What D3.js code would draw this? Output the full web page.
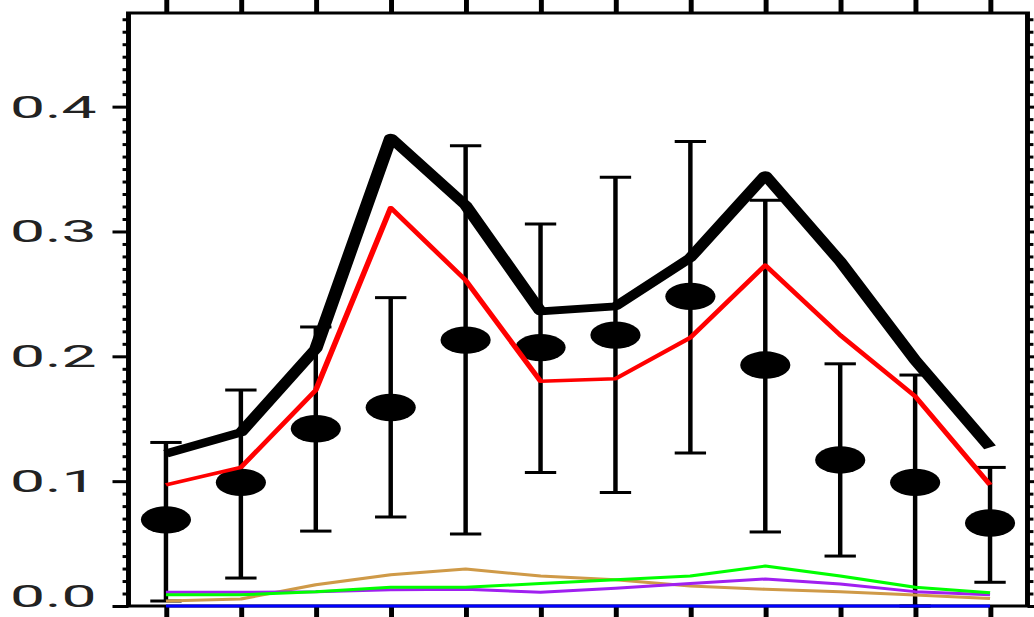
<!DOCTYPE html>
<html>
<head>
<meta charset="utf-8">
<script src="https://cdn.jsdelivr.net/npm/d3@7"></script>
<style>
  html, body { margin: 0; padding: 0; background: #fff; overflow: hidden; }
  svg { display: block; }
</style>
</head>
<body>
<svg id="chart"></svg>
<script>
// Monthly values
const months = [1, 2, 3, 4, 5, 6, 7, 8, 9, 10, 11, 12];

// Observed mean with its spread
const observed = [0.069, 0.099, 0.142, 0.159, 0.213, 0.207, 0.217, 0.248, 0.193, 0.117, 0.099, 0.0665];
const obsHigh  = [0.131, 0.173, 0.2235, 0.247, 0.3686, 0.306, 0.3435, 0.372, 0.325, 0.194, 0.185, 0.111];
const obsLow   = [0.004, 0.0224, 0.060, 0.0713, 0.0577, 0.107, 0.091, 0.1226, 0.0593, 0.040, 0.0, 0.019];

// Modelled totals and components
const modelTotal = [0.122, 0.139, 0.206, 0.375, 0.321, 0.236, 0.240, 0.279, 0.345, 0.276, 0.197, 0.127];
const modelMain  = [0.097, 0.111, 0.173, 0.319, 0.261, 0.180, 0.182, 0.215, 0.273, 0.217, 0.168, 0.097];
const compTan    = [0.004, 0.0056, 0.017, 0.025, 0.0296, 0.024, 0.021, 0.016, 0.0134, 0.0115, 0.0088, 0.006];
const compGreen  = [0.009, 0.009, 0.0115, 0.015, 0.015, 0.018, 0.021, 0.024, 0.032, 0.024, 0.015, 0.0107];
const compPurple = [0.011, 0.011, 0.0115, 0.013, 0.0134, 0.011, 0.0142, 0.018, 0.0216, 0.0176, 0.0115, 0.009];
const compBlue   = [0, 0, 0, 0, 0, 0, 0, 0, 0, 0, 0, 0];

// Axis ticks
const yTicks = [0.0, 0.1, 0.2, 0.3, 0.4];
const yTickLabels = ["0.0", "0.1", "0.2", "0.3", "0.4"];
const yMinorStep = 0.01;
const yMax = 0.475;

// The drawing space is stretched horizontally onto the page
const W = 1034, H = 617, STRETCH = 1.65;
const VW = W / STRETCH;

const svg = d3.select("#chart")
  .attr("width", W)
  .attr("height", H)
  .attr("viewBox", `0 0 ${VW} ${H}`)
  .attr("preserveAspectRatio", "none");

const x = d3.scaleLinear().domain([0.5, 12.5]).range([128.5 / STRETCH, 1027.5 / STRETCH]);
const y = d3.scaleLinear().domain([0, yMax]).range([606, 13]);

const [x0, x1] = x.range();
const [yB, yT] = y.range();

// Ticks
const minorTicks = d3.range(0, yMax + 1e-9, yMinorStep)
  .filter(v => !yTicks.some(t => Math.abs(t - v) < 1e-6));

function styleAxis(g) {
  g.select(".domain").remove();
  g.selectAll(".tick line").attr("stroke", "#000").attr("stroke-width", 3);
  g.selectAll(".tick text").remove();
}

svg.append("g").attr("transform", `translate(${x0},0)`)
  .call(d3.axisLeft(y).tickValues(minorTicks).tickSize(3.6).tickSizeOuter(0))
  .call(styleAxis);
svg.append("g").attr("transform", `translate(${x0},0)`)
  .call(d3.axisLeft(y).tickValues(yTicks).tickSize(9.7).tickSizeOuter(0))
  .call(styleAxis);
svg.append("g").attr("transform", `translate(${x1},0)`)
  .call(d3.axisRight(y).tickValues(minorTicks).tickSize(3.6).tickSizeOuter(0))
  .call(styleAxis);
svg.append("g").attr("transform", `translate(${x1},0)`)
  .call(d3.axisRight(y).tickValues(yTicks).tickSize(9.7).tickSizeOuter(0))
  .call(styleAxis);
svg.append("g").attr("transform", `translate(0,${yB})`)
  .call(d3.axisBottom(x).tickValues(months).tickSize(12).tickSizeOuter(0))
  .call(styleAxis);
svg.append("g").attr("transform", `translate(0,${yT})`)
  .call(d3.axisTop(x).tickValues(months).tickSize(14).tickSizeOuter(0))
  .call(styleAxis);

// Y labels (the lowest one is lifted to stay on the page)
svg.append("g").selectAll("text")
  .data(yTicks)
  .join("text")
  .attr("transform", d => `translate(58.5,${Math.min(y(d) + 11, 607)}) scale(1.22,1)`)
  .attr("text-anchor", "end")
  .attr("font-family", "Roboto, 'Liberation Sans', Arial, sans-serif")
  .attr("font-weight", 400)
  .attr("font-size", 31)
  .attr("fill", "#222")
  .text((d, i) => yTickLabels[i]);

// Frame
svg.append("rect")
  .attr("x", x0).attr("y", yT)
  .attr("width", x1 - x0).attr("height", yB - yT)
  .attr("fill", "none").attr("stroke", "#000").attr("stroke-width", 3);

// Error bars
const capHalf = 9.5;
const bars = svg.append("g").attr("stroke", "#000");
bars.selectAll("line.v").data(months).join("line").attr("class", "v")
  .attr("x1", d => x(d)).attr("x2", d => x(d))
  .attr("y1", (d, i) => y(obsLow[i])).attr("y2", (d, i) => y(obsHigh[i]))
  .attr("stroke-width", 2.7);
bars.selectAll("line.hi").data(months).join("line").attr("class", "hi")
  .attr("x1", d => x(d) - capHalf).attr("x2", d => x(d) + capHalf)
  .attr("y1", (d, i) => y(obsHigh[i])).attr("y2", (d, i) => y(obsHigh[i]))
  .attr("stroke-width", 3);
bars.selectAll("line.lo").data(months).join("line").attr("class", "lo")
  .attr("x1", d => x(d) - capHalf).attr("x2", d => x(d) + capHalf)
  .attr("y1", (d, i) => y(obsLow[i])).attr("y2", (d, i) => y(obsLow[i]))
  .attr("stroke-width", 3);

// Observed markers
svg.append("g").selectAll("ellipse").data(months).join("ellipse")
  .attr("cx", d => x(d))
  .attr("cy", (d, i) => y(observed[i]))
  .attr("rx", 15.2).attr("ry", 13.7)
  .attr("fill", "#000");

// Lines
const line = d3.line().x((d, i) => x(months[i])).y(d => y(d));
const series = [
  { values: compTan,    color: "#cf9a48", width: 3 },
  { values: compPurple, color: "#a020f0", width: 3 },
  { values: compGreen,  color: "#00ff00", width: 3 },
  { values: compBlue,   color: "#0000ff", width: 3 },
  { values: modelMain,  color: "#ff0000", width: 3.5 },
  { values: modelTotal, color: "#000000", width: 8 }
];
svg.append("g").selectAll("path").data(series).join("path")
  .attr("d", d => line(d.values))
  .attr("fill", "none")
  .attr("stroke", d => d.color)
  .attr("stroke-width", d => d.width)
  .attr("stroke-linejoin", "round");
</script>
</body>
</html>
